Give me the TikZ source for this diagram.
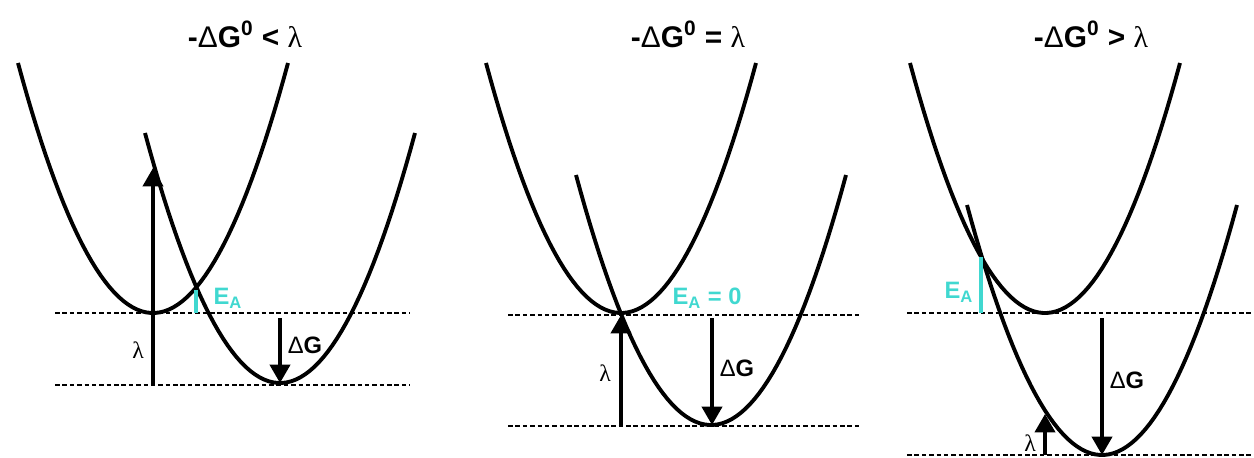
\documentclass[tikz,border=0pt]{standalone}
\usepackage{fontspec}
\setmainfont{Liberation Sans}
\newfontfamily\lamfont{Liberation Serif}
\usetikzlibrary{arrows.meta}
\definecolor{EAcyan}{HTML}{40D8D0}
\newcommand{\lam}{{\lamfont\mdseries λ}}
\newcommand{\dlt}{{\mdseries Δ}}
\begin{document}
\begin{tikzpicture}[x=0.02cm,y=-0.02cm,>={Triangle[width=11.5pt,length=10.5pt]},
 well/.style={line width=2.2pt},
 level/.style={line width=1.5pt,dash pattern=on 2.6pt off 1.6pt},
 gap/.style={line width=2.1pt,->},
 ea/.style={draw=EAcyan,line width=2.2pt},
 title/.style={font=\fontsize{17}{19}\selectfont\bfseries,anchor=base},
 lbl/.style={font=\fontsize{13.5}{15}\selectfont\bfseries}]
\useasboundingbox (0,0) rectangle (1254,457);
% -dG0 < lambda
\node[title] (t1) at (245,47) {-\dlt G\textsuperscript{0} < \lam};
\draw[level] (55,313) -- (410,313);
\draw[level] (55,385) -- (410,385);
\draw[well] plot[domain=-13.5:13.5,samples=60] ({153+10*\x},{313-1.3717*\x*\x});
\draw[well] plot[domain=-13.5:13.5,samples=60] ({280+10*\x},{383-1.3717*\x*\x});
\coordinate (a1) at (153,385); \coordinate (b1) at (153,168);
\coordinate (c1) at (280,318); \coordinate (d1) at (280,383);
\coordinate (e1) at (196,290); \coordinate (f1) at (196,313);
\draw[gap] (a1) -- (b1);
\draw[gap] (c1) -- (d1);
\draw[ea] (e1) -- (f1);
\node[lbl] (l1) at (138,350) {\lam};
\node[lbl] (g1) at (305,345) {\dlt G};
\node[lbl,text=EAcyan] (x1) at (228,298) {E\textsubscript{A}};
% -dG0 = lambda
\node[title] (t2) at (688,47) {-\dlt G\textsuperscript{0} = \lam};
\draw[level] (508,315) -- (862,315);
\draw[level] (508,426) -- (862,426);
\draw[well] plot[domain=-13.5:13.5,samples=60] ({621+10*\x},{313-1.3717*\x*\x});
\draw[well] plot[domain=-13.5:13.5,samples=60] ({711+10*\x},{425-1.3717*\x*\x});
\coordinate (a2) at (621,426); \coordinate (b2) at (621,315);
\coordinate (c2) at (712,318); \coordinate (d2) at (712,425);
\draw[gap] (a2) -- (b2);
\draw[gap] (c2) -- (d2);
\node[lbl] (l2) at (605,373) {\lam};
\node[lbl] (g2) at (737,368) {\dlt G};
\node[lbl,text=EAcyan] (x2) at (707,298) {E\textsubscript{A} = 0};
% -dG0 > lambda
\node[title] (t3) at (1091,47) {-\dlt G\textsuperscript{0} > \lam};
\draw[level] (907,313) -- (1254,313);
\draw[level] (907,455) -- (1254,455);
\draw[well] plot[domain=-13.5:13.5,samples=60] ({1045+10*\x},{313-1.3717*\x*\x});
\draw[well] plot[domain=-13.5:13.5,samples=60] ({1102+10*\x},{455-1.3717*\x*\x});
\coordinate (a3) at (1045,455); \coordinate (b3) at (1045,414);
\coordinate (c3) at (1102,318); \coordinate (d3) at (1102,455);
\coordinate (e3) at (981,257); \coordinate (f3) at (981,313);
\draw[gap] (a3) -- (b3);
\draw[gap] (c3) -- (d3);
\draw[ea] (e3) -- (f3);
\node[lbl] (l3) at (1030,443) {\lam};
\node[lbl] (g3) at (1127,380) {\dlt G};
\node[lbl,text=EAcyan] (x3) at (959,292) {E\textsubscript{A}};
\end{tikzpicture}
\end{document}
